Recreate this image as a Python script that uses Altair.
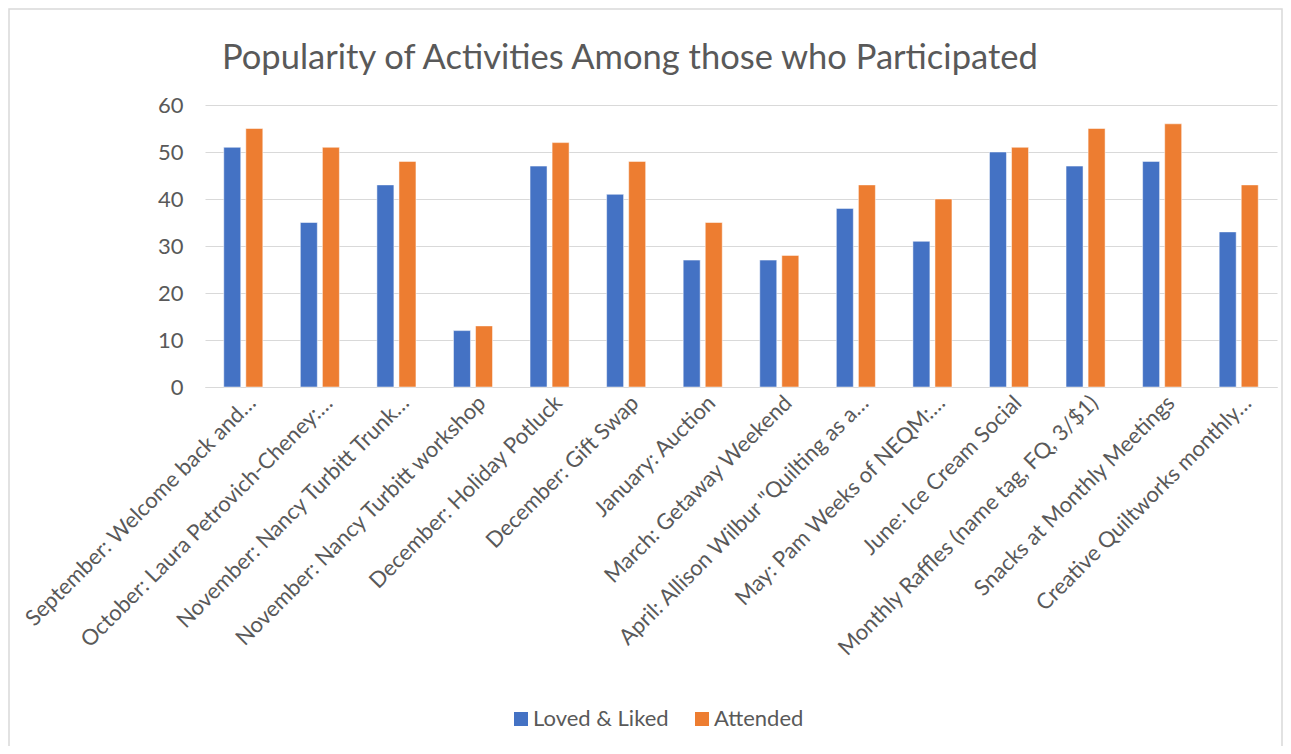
import altair as alt
import pandas as pd

categories = [
    "September: Welcome back and…",
    "October: Laura Petrovich-Cheney:…",
    "November: Nancy Turbitt Trunk…",
    "November: Nancy Turbitt workshop",
    "December: Holiday Potluck",
    "December: Gift Swap",
    "January: Auction",
    "March: Getaway Weekend",
    "April: Allison Wilbur \"Quilting as a…",
    "May: Pam Weeks of NEQM:…",
    "June: Ice Cream Social",
    "Monthly Raffles (name tag, FQ, 3/$1)",
    "Snacks at Monthly Meetings",
    "Creative Quiltworks monthly…",
]
loved_liked = [51, 35, 43, 12, 47, 41, 27, 27, 38, 31, 50, 47, 48, 33]
attended = [55, 51, 48, 13, 52, 48, 35, 28, 43, 40, 51, 55, 56, 43]
series = ["Loved & Liked", "Attended"]
colors = ["#4472C4", "#ED7D31"]
title_text = "Popularity of Activities Among those who Participated"

rows = []
for c, a, b in zip(categories, loved_liked, attended):
    rows.append({"Activity": c, "Series": series[0], "Value": a})
    rows.append({"Activity": c, "Series": series[1], "Value": b})
df = pd.DataFrame(rows)

FONT = "Lato"
GREY = "#595959"
FS = 22

bars = alt.Chart(df).mark_bar(stroke="white", strokeWidth=0.5).encode(
    x=alt.X("Activity:N", sort=categories, title=None,
            scale=alt.Scale(paddingInner=0.49, paddingOuter=0.245),
            axis=alt.Axis(labelAngle=-45, labelAlign="right", labelBaseline="middle",
                          labelFontSize=FS, labelColor=GREY, labelFont=FONT,
                          ticks=False, domainColor="#d9d9d9", labelPadding=12,
                          labelOffset=9, labelLimit=500, grid=False)),
    xOffset=alt.XOffset("Series:N", sort=series,
                        scale=alt.Scale(paddingInner=0.23)),
    y=alt.Y("Value:Q", title=None,
            scale=alt.Scale(domain=[0, 60]),
            axis=alt.Axis(values=[0, 10, 20, 30, 40, 50, 60], labelFontSize=FS,
                          labelColor=GREY, labelFont=FONT, ticks=False, domain=False,
                          gridColor="#d9d9d9", labelPadding=22)),
    color=alt.Color("Series:N", sort=series,
                    scale=alt.Scale(domain=series, range=colors),
                    legend=alt.Legend(title=None, orient="none", direction="horizontal",
                                      legendX=305, legendY=603, symbolType="square",
                                      symbolSize=196, symbolStrokeWidth=0,
                                      labelFontSize=FS, labelColor=GREY, labelFont=FONT,
                                      labelOffset=1, columnPadding=22)),
)

frame = alt.Chart(pd.DataFrame({"k": [0]})).mark_rect(
    fill=None, stroke="#d9d9d9", strokeWidth=1.5, clip=False
).encode(
    x=alt.value(-196), x2=alt.value(1077), y=alt.value(-96), y2=alt.value(700)
)

title = alt.Chart(pd.DataFrame({"t": [title_text]})).mark_text(
    align="left", baseline="alphabetic", font=FONT, fontSize=34.5, color=GREY
).encode(text="t:N", x=alt.value(17), y=alt.value(-36))

chart = alt.layer(frame, bars, title).properties(
    width=1072,
    height=282,
    autosize=alt.AutoSizeParams(type="none"),
    padding={"left": 197, "top": 97, "right": 6, "bottom": 359},
).configure_view(stroke=None)

chart.save("out.html", embed_options={"renderer": "svg", "actions": False})
